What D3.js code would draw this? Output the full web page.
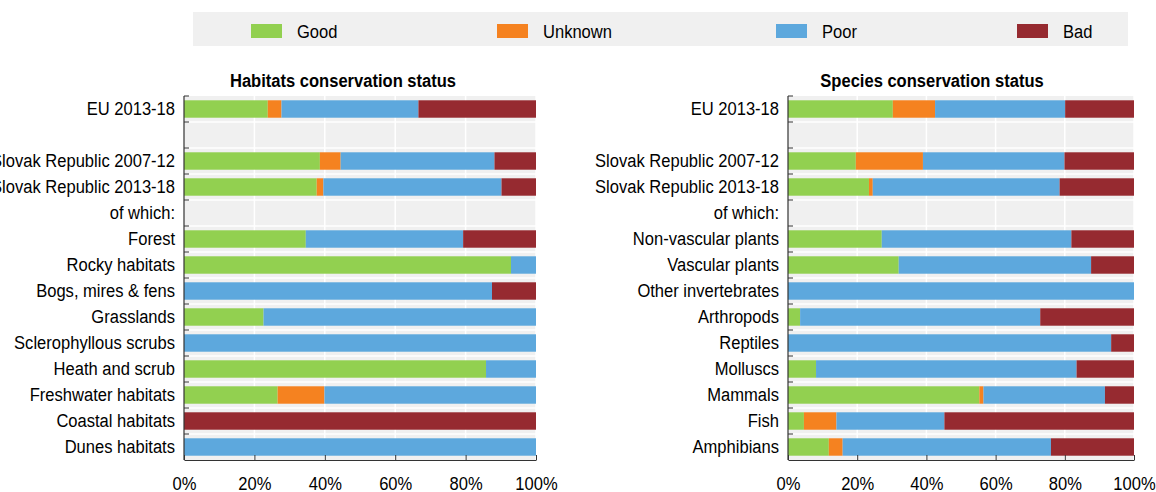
<!DOCTYPE html>
<html>
<head>
<meta charset="utf-8">
<script src="https://cdn.jsdelivr.net/npm/d3@7"></script>
<style>
  html, body { margin: 0; padding: 0; background: #fff; }
  svg { display: block; font-family: "Liberation Sans", Arial, sans-serif; }
</style>
</head>
<body>
<svg id="chart" width="1156" height="492"></svg>
<script>
// ---------- DATA ----------
const seriesNames = ["Good", "Unknown", "Poor", "Bad"];
const seriesColors = ["#92d050", "#f58220", "#5da8dd", "#962a30"];

const habitatCategories = ["EU 2013-18", "", "Slovak Republic 2007-12", "Slovak Republic 2013-18", "of which:",
  "Forest", "Rocky habitats", "Bogs, mires & fens", "Grasslands", "Sclerophyllous scrubs",
  "Heath and scrub", "Freshwater habitats", "Coastal habitats", "Dunes habitats"];
const habitatGood    = [23.8, null, 38.6, 37.7, null, 34.6, 92.9, 0,    22.6, 0,   85.8, 26.6, 0,   0];
const habitatUnknown = [3.9,  null, 5.9,  1.9,  null, 0,    0,    0,    0,    0,   0,    13.3, 0,   0];
const habitatPoor    = [38.9, null, 43.7, 50.6, null, 44.7, 7.1,  87.5, 77.4, 100, 14.2, 60.1, 0,   100];
const habitatBad     = [33.4, null, 11.8, 9.8,  null, 20.7, 0,    12.5, 0,    0,   0,    0,    100, 0];

const speciesCategories = ["EU 2013-18", "", "Slovak Republic 2007-12", "Slovak Republic 2013-18", "of which:",
  "Non-vascular plants", "Vascular plants", "Other invertebrates", "Arthropods", "Reptiles",
  "Molluscs", "Mammals", "Fish", "Amphibians"];
const speciesGood    = [30.3, null, 19.6, 23.4, null, 27.1, 32.0, 0,   3.5,  0,    8.1,  55.3, 4.6,  11.8];
const speciesUnknown = [12.2, null, 19.4, 1.1,  null, 0,    0,    0,   0,    0,    0,    1.2,  9.4,  4.0];
const speciesPoor    = [37.6, null, 40.9, 54.0, null, 54.8, 55.6, 100, 69.4, 93.4, 75.3, 35.1, 31.2, 60.2];
const speciesBad     = [19.9, null, 20.1, 21.5, null, 18.1, 12.4, 0,   27.1, 6.6,  16.6, 8.4,  54.8, 24.0];

const xTicks = [0, 20, 40, 60, 80, 100];
const xTickLabels = ["0%", "20%", "40%", "60%", "80%", "100%"];

// ---------- LAYOUT ----------
const svg = d3.select("#chart");
const FONT = 17.6;
const SX = 0.94; // horizontal condensing of the text
const plotTop = 96, plotBottom = 460;

function place(sel, x, y) {
  return sel.attr("transform", `translate(${x},${y}) scale(${SX},1)`);
}

// Legend
const legendBox = { x: 193, y: 12, w: 935, h: 34 };
const legendSwatchX = [251, 497, 776, 1017];
const lg = svg.append("g");
lg.append("rect").attr("x", legendBox.x).attr("y", legendBox.y)
  .attr("width", legendBox.w).attr("height", legendBox.h).attr("fill", "#f0f0f0");
seriesNames.forEach((name, i) => {
  lg.append("rect").attr("x", legendSwatchX[i]).attr("y", 24)
    .attr("width", 31).attr("height", 14).attr("fill", seriesColors[i]);
  place(lg.append("text"), legendSwatchX[i] + 46, 32)
    .attr("dy", "0.35em").attr("font-size", FONT).attr("fill", "#000").text(name);
});

const panels = [
  { title: "Habitats conservation status", titleX: 343, x0: 184, x1: 536,
    cats: habitatCategories, series: [habitatGood, habitatUnknown, habitatPoor, habitatBad] },
  { title: "Species conservation status", titleX: 932, x0: 788, x1: 1134,
    cats: speciesCategories, series: [speciesGood, speciesUnknown, speciesPoor, speciesBad] }
];

panels.forEach(p => {
  const g = svg.append("g");
  const x = d3.scaleLinear().domain([0, 100]).range([p.x0, p.x1]);
  const idx = d3.range(p.cats.length);
  const y = d3.scaleBand().domain(idx).range([plotTop, plotBottom]).paddingInner(0.33).paddingOuter(0.165);
  const step = y.step();

  // background
  g.append("rect").attr("x", x(0)).attr("y", plotTop).attr("width", x(100) - x(0))
    .attr("height", plotBottom - plotTop).attr("fill", "#f0f0f0");
  // white grid lines
  g.selectAll(".vg").data(xTicks.slice(1)).join("line")
    .attr("x1", d => x(d)).attr("x2", d => x(d)).attr("y1", plotTop).attr("y2", plotBottom)
    .attr("stroke", "#fff").attr("stroke-width", 1.5);
  g.selectAll(".hg").data(d3.range(1, p.cats.length)).join("line")
    .attr("x1", x(0)).attr("x2", x(100))
    .attr("y1", i => plotTop + i * step).attr("y2", i => plotTop + i * step)
    .attr("stroke", "#fff").attr("stroke-width", 1.5);

  // stacked bars
  const rows = idx.map(i => {
    const r = { i: i, valid: p.series[0][i] !== null };
    seriesNames.forEach((s, k) => r[s] = p.series[k][i] || 0);
    return r;
  });
  const stack = d3.stack().keys(seriesNames)(rows);
  stack.forEach((layer, k) => {
    g.append("g").attr("fill", seriesColors[k])
      .selectAll("rect").data(layer.filter(d => d.data.valid && d[1] - d[0] > 0)).join("rect")
      .attr("x", d => x(d[0])).attr("width", d => x(d[1]) - x(d[0]))
      .attr("y", d => y(d.data.i)).attr("height", y.bandwidth());
  });

  // left axis line and ticks at band boundaries
  g.append("line").attr("x1", x(0)).attr("x2", x(0)).attr("y1", plotTop).attr("y2", plotBottom)
    .attr("stroke", "#333").attr("stroke-width", 1.2);
  g.selectAll(".lt").data(d3.range(0, p.cats.length)).join("line")
    .attr("x1", x(0)).attr("x2", x(0) + 5)
    .attr("y1", i => plotTop + i * step).attr("y2", i => plotTop + i * step)
    .attr("stroke", "#333").attr("stroke-width", 1);

  // category labels
  g.selectAll(".cl").data(idx).join("text")
    .attr("transform", i => `translate(${x(0) - 9},${y(i) + y.bandwidth() / 2}) scale(${SX},1)`)
    .attr("dy", "0.35em").attr("text-anchor", "end")
    .attr("font-size", FONT).attr("fill", "#000")
    .text(i => p.cats[i]);

  // bottom axis
  const ax = d3.axisBottom(x).tickValues(xTicks).tickFormat((d, i) => xTickLabels[i])
    .tickSizeInner(-5).tickSizeOuter(0).tickPadding(18);
  const axG = g.append("g").attr("transform", `translate(0,${plotBottom})`).call(ax);
  axG.select(".domain").attr("stroke", "#333").attr("stroke-width", 1.2);
  axG.selectAll(".tick line").attr("stroke", "#333");
  axG.selectAll(".tick text").attr("font-size", FONT).attr("fill", "#000")
    .attr("font-family", "Liberation Sans, Arial, sans-serif")
    .attr("transform", `scale(${SX},1)`);

  // title
  place(g.append("text"), p.titleX, 81).attr("dy", "0.35em")
    .attr("text-anchor", "middle").attr("font-weight", "bold")
    .attr("font-size", FONT).attr("fill", "#000").text(p.title);
});
</script>
</body>
</html>
